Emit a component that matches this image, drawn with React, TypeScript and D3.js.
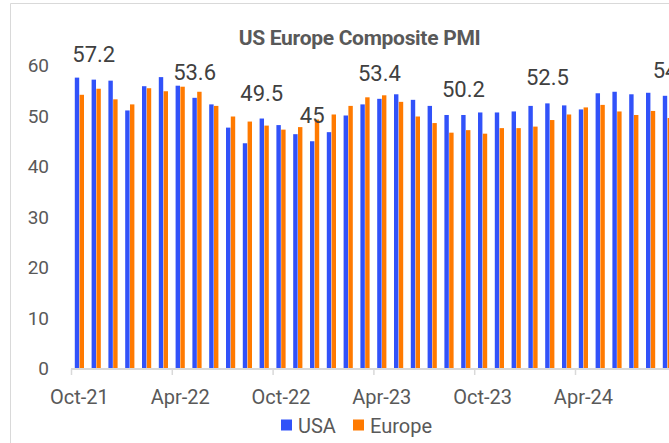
import { useEffect, useRef } from "react";
import * as d3 from "d3";

// monthly categories shown on the x axis
const months = [
  "Oct-21", "Nov-21", "Dec-21", "Jan-22", "Feb-22", "Mar-22", "Apr-22", "May-22", "Jun-22",
  "Jul-22", "Aug-22", "Sep-22", "Oct-22", "Nov-22", "Dec-22", "Jan-23", "Feb-23", "Mar-23",
  "Apr-23", "May-23", "Jun-23", "Jul-23", "Aug-23", "Sep-23", "Oct-23", "Nov-23", "Dec-23",
  "Jan-24", "Feb-24", "Mar-24", "Apr-24", "May-24", "Jun-24", "Jul-24", "Aug-24", "Sep-24",
];

const usa = [
  57.6, 57.2, 57.0, 51.1, 55.9, 57.7, 56.0, 53.6, 52.3, 47.7, 44.6, 49.5,
  48.2, 46.4, 45, 46.8, 50.1, 52.3, 53.4, 54.3, 53.2, 52.0, 50.2, 50.2,
  50.7, 50.7, 50.9, 52.0, 52.5, 52.1, 51.3, 54.5, 54.8, 54.3, 54.6, 54,
];

const europe = [
  54.2, 55.4, 53.3, 52.3, 55.5, 54.9, 55.8, 54.8, 52.0, 49.9, 48.9, 48.1,
  47.3, 47.8, 49.3, 50.3, 52.0, 53.7, 54.1, 52.8, 49.9, 48.6, 46.7, 47.2,
  46.5, 47.6, 47.6, 47.9, 49.2, 50.3, 51.7, 52.2, 50.9, 50.2, 51.0, 49.6,
];

// months whose USA value carries a data label
const labelledMonths = ["Nov-21", "May-22", "Sep-22", "Dec-22", "Apr-23", "Sep-23", "Feb-24", "Sep-24"];

const tickMonths = ["Oct-21", "Apr-22", "Oct-22", "Apr-23", "Oct-23", "Apr-24"];
const yTicks = [0, 10, 20, 30, 40, 50, 60];

const seriesNames = ["USA", "Europe"];
const colors = ["#3152f9", "#ff7a00"];

export default function App() {
  const svgRef = useRef<SVGSVGElement | null>(null);

  useEffect(() => {
    const svg = d3.select(svgRef.current);
    svg.selectAll("*").remove();

    const font = "Roboto, 'Open Sans', sans-serif";
    const step = 16.8;
    const left = 71;

    // chart frame (cut off by the window on the right and bottom)
    svg.append("path")
      .attr("d", "M10.5,443 V3.5 H669")
      .attr("fill", "none")
      .attr("stroke", "#d9d9d9");

    const x0 = d3.scaleBand<string>()
      .domain(months)
      .range([left, left + step * months.length])
      .padding(0);

    const x1 = d3.scaleBand<string>()
      .domain(seriesNames)
      .range([x0.bandwidth() / 2 - 4.6, x0.bandwidth() / 2 + 4.6])
      .paddingInner(0.08);

    const y = d3.scaleLinear().domain([0, 60]).range([368.5, 65.5]);

    // title
    svg.append("text")
      .attr("x", 359.5)
      .attr("y", 45)
      .attr("text-anchor", "middle")
      .attr("font-family", font)
      .attr("font-weight", "bold")
      .attr("font-size", 21)
      .attr("letter-spacing", -0.3)
      .attr("fill", "#595959")
      .text("US Europe Composite PMI");

    // y axis labels
    svg.append("g")
      .selectAll("text")
      .data(yTicks)
      .join("text")
      .attr("x", 49)
      .attr("y", d => y(d))
      .attr("dy", "0.36em")
      .attr("text-anchor", "end")
      .attr("font-family", font)
      .attr("font-size", 19)
      .attr("fill", "#595959")
      .text(d => d);

    // bars
    const series = [usa, europe];
    series.forEach((vals, s) => {
      svg.append("g")
        .selectAll("rect")
        .data(vals)
        .join("rect")
        .attr("x", (d, i) => (x0(months[i]) ?? 0) + (x1(seriesNames[s]) ?? 0))
        .attr("y", d => y(d))
        .attr("width", x1.bandwidth())
        .attr("height", d => y(0) - y(d))
        .attr("fill", colors[s]);
    });

    // x axis line and ticks
    svg.append("line")
      .attr("x1", left)
      .attr("x2", 669)
      .attr("y1", 369)
      .attr("y2", 369)
      .attr("stroke", "#d9d9d9")
      .attr("stroke-width", 2);

    svg.append("g")
      .selectAll("line")
      .data(tickMonths)
      .join("line")
      .attr("x1", d => (x0(d) ?? 0) + 0.5)
      .attr("x2", d => (x0(d) ?? 0) + 0.5)
      .attr("y1", 369)
      .attr("y2", 375)
      .attr("stroke", "#d9d9d9")
      .attr("stroke-width", 1.5);

    svg.append("g")
      .selectAll("text")
      .data(tickMonths)
      .join("text")
      .attr("x", d => (x0(d) ?? 0) + x0.bandwidth() / 2)
      .attr("y", 404)
      .attr("text-anchor", "middle")
      .attr("font-family", font)
      .attr("font-size", 20)
      .attr("fill", "#595959")
      .text(d => d);

    // data labels on selected USA bars
    svg.append("g")
      .selectAll("text")
      .data(labelledMonths)
      .join("text")
      .attr("x", d => (x0(d) ?? 0) + (x1("USA") ?? 0) + x1.bandwidth() / 2)
      .attr("y", d => y(usa[months.indexOf(d)]) - 18)
      .attr("text-anchor", "middle")
      .attr("font-family", font)
      .attr("font-size", 22)
      .attr("fill", "#404040")
      .text(d => String(usa[months.indexOf(d)]));

    // legend
    const legend = svg.append("g");
    const legendX = [281, 353];
    seriesNames.forEach((name, i) => {
      legend.append("rect")
        .attr("x", legendX[i])
        .attr("y", 419.5)
        .attr("width", 11)
        .attr("height", 11)
        .attr("fill", colors[i]);
      legend.append("text")
        .attr("x", legendX[i] + 17)
        .attr("y", 432.5)
        .attr("font-family", font)
        .attr("font-size", 20)
        .attr("fill", "#595959")
        .text(name);
    });
  }, []);

  return (
    <div style={{ position: "absolute", left: 0, top: 0, width: 669, height: 443, overflow: "hidden", background: "#fff" }}>
      <svg ref={svgRef} width={669} height={443} />
    </div>
  );
}
